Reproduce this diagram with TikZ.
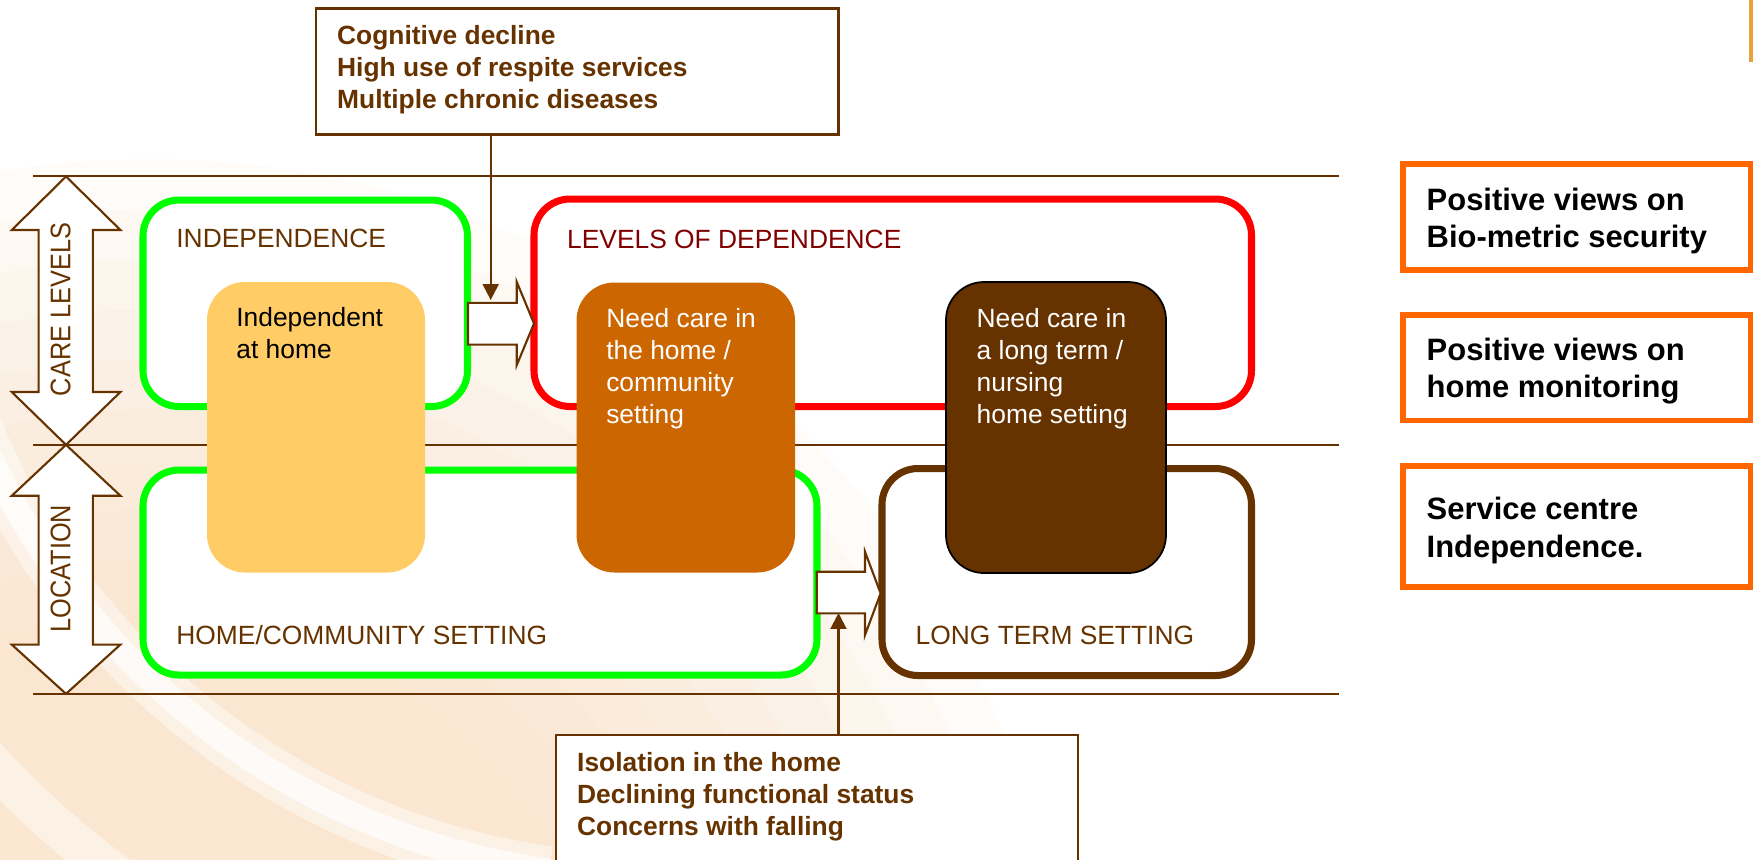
\documentclass[tikz,border=0pt]{standalone}
\usepackage{fontspec}
\setmainfont{Liberation Sans}
\usetikzlibrary{arrows.meta,fit}

\definecolor{cbrown}{HTML}{663300}
\definecolor{cgreen}{HTML}{00FF00}
\definecolor{cred}{HTML}{FF0000}
\definecolor{cdarkred}{HTML}{800000}
\definecolor{cyellow}{HTML}{FFCC66}
\definecolor{corange}{HTML}{CC6600}
\definecolor{cframe}{HTML}{FF6600}
\definecolor{cpeach}{RGB}{250,222,190}
\definecolor{cedge}{RGB}{235,160,60}

\begin{document}
\begin{tikzpicture}[x=0.01cm,y=-0.01cm,
  hline/.style={draw=cbrown, line width=0.55pt},
  conn/.style={draw=cbrown, line width=0.6pt, -{Triangle[length=4.5pt,width=4.5pt]}},
  blockarrow/.style={draw=cbrown, line width=0.6pt, fill=white, line join=miter},
  zone/.style={draw, line width=2pt, fill=white, rounded corners=0.36cm, inner sep=0pt},
  stage/.style={rounded corners=0.38cm, inner sep=0pt},
  notebox/.style={draw=cbrown, line width=0.6pt, fill=white, inner sep=0pt},
  viewbox/.style={draw=cframe, line width=1.6pt, fill=white, inner sep=0pt},
  wash/.style={fill=cpeach, fill opacity=#1},
  lbl/.style={anchor=base west, inner sep=0pt, font=\fontsize{7.5pt}{9pt}\selectfont},
  % multi-line texts are placed by the baseline of their last line
  stagetxt/.style={anchor=base west, inner sep=0pt, align=left, font=\fontsize{7.5pt}{9.1pt}\selectfont},
  notetxt/.style={anchor=base west, inner sep=0pt, align=left, text=cbrown, font=\fontsize{7.5pt}{9.1pt}\selectfont\bfseries},
  viewtxt/.style={anchor=base west, inner sep=0pt, align=left, font=\fontsize{8.8pt}{10.6pt}\selectfont\bfseries},
  axistxt/.style={rotate=90, inner sep=0pt, text=cbrown, font=\fontsize{7.2pt}{8pt}\selectfont},
]
\useasboundingbox (0,0) rectangle (1753,859);
\clip (0,0) rectangle (1753,859);

% backdrop: layered peach wash with pale sweeping bands
\fill[white] (0,0) rectangle (1753,859);
\foreach \r in {9.2cm,8.7cm,8.2cm,7.7cm,7.2cm,6.7cm,6.2cm,5.7cm,5.2cm,4.7cm}
  \fill[wash=0.1] (150,1080) circle (\r);
\draw[white, line width=0.5cm, opacity=0.45] (-34,399) arc[start angle=200, end angle=262, radius=7.28cm];
\draw[white, line width=0.25cm, opacity=0.7] (-34,399) arc[start angle=200, end angle=262, radius=7.28cm];
\draw[white, line width=0.4cm, opacity=0.45] (-87,666) arc[start angle=215, end angle=245, radius=9cm];
\draw[cedge, line width=1pt] (1751,0) -- (1751,62);

% band separators
\draw[hline] (33,175.8) -- (1339,175.8);
\draw[hline] (33,445) -- (1339,445);
\draw[hline] (33,694) -- (1339,694);

% axis double arrows
\draw[blockarrow] (66,176.5) -- (120.4,230) -- (92.9,230) -- (92.9,392) -- (120.4,392) -- (66,444.8)
  -- (11.8,392) -- (38.6,392) -- (38.6,230) -- (11.8,230) -- cycle;
\draw[blockarrow] (66,444.8) -- (120.4,495.7) -- (92.9,495.7) -- (92.9,644.6) -- (120.4,644.6) -- (66,693.8)
  -- (11.8,644.6) -- (38.6,644.6) -- (38.6,495.7) -- (11.8,495.7) -- cycle;
\node[axistxt] (carelbl) at (60.5,309.5) {\scalebox{1}[1.12]{CARE LEVELS}};
\node[axistxt] (loclbl) at (60.5,568.5) {\scalebox{1}[1.12]{LOCATION}};

% trigger notes
\node[notebox, fit={(316,8.5) (838.5,134.5)}] (causeA) {};
\node[notetxt] (causeAtxt) at (336.5,108.3) {Cognitive decline\\High use of respite services\\Multiple chronic diseases};
\node[notebox, fit={(555.8,735) (1077.7,875)}] (causeB) {};
\node[notetxt] (causeBtxt) at (576.5,835.7) {Isolation in the home\\Declining functional status\\Concerns with falling};

% zones
\node[zone, draw=cgreen, fit={(143,200) (467.5,406.5)}] (indep) {};
\node[zone, draw=cgreen, fit={(143,470) (817,675)}] (homeset) {};
\node[zone, draw=cred, fit={(534,199) (1251.5,406.5)}] (depend) {};
\node[zone, draw=cbrown, fit={(882,468.5) (1251.5,675.5)}] (longterm) {};

\node[lbl, text=cbrown] (indeplbl) at (175.7,247.5) {INDEPENDENCE};
\node[lbl, text=cdarkred] (dependlbl) at (566.5,248) {LEVELS OF DEPENDENCE};
\node[lbl, text=cbrown] (homelbl) at (175.7,644.6) {HOME/COMMUNITY SETTING};
\node[lbl, text=cbrown] (longlbl) at (915,644) {LONG TERM SETTING};

% care stages
\node[stage, fill=cyellow, fit={(207,282) (425,572.5)}] (athome) {};
\node[stage, fill=corange, fit={(576.5,282.5) (795,572.5)}] (community) {};
\node[stage, fill=cbrown, draw=black, line width=0.5pt, fit={(946,282) (1166,573)}] (nursing) {};

\node[stagetxt] (athometxt) at (235.7,358.5) {Independent\\at home};
\node[stagetxt, text=white] (communitytxt) at (605.6,423) {Need care in\\the home /\\community\\setting};
\node[stagetxt, text=white] (nursingtxt) at (976,423) {Need care in\\a long term /\\nursing\\home setting};

% transitions between zones
\draw[blockarrow] (468,302.9) -- (516.8,302.9) -- (516.8,282) -- (534,323.5) -- (516.8,365)
  -- (516.8,344.6) -- (468,344.6) -- cycle;
\draw[blockarrow] (816.7,571.7) -- (865,571.7) -- (865,551.7) -- (880.6,593.3) -- (865,635)
  -- (865,613.3) -- (816.7,613.3) -- cycle;

\coordinate (tipA) at (490.7,300);
\coordinate (tipB) at (838.5,613);
\draw[conn] (causeA.south -| tipA) -- (tipA);
\draw[conn] (causeB.north -| tipB) -- (tipB);

% findings
\node[viewbox, fit={(1403,164) (1750.5,269.7)}] (viewA) {};
\node[viewtxt] (viewAtxt) at (1426,247.7) {Positive views on\\Bio-metric security};
\node[viewbox, fit={(1403,315) (1750.5,420.5)}] (viewB) {};
\node[viewtxt] (viewBtxt) at (1426,397.7) {Positive views on\\home monitoring};
\node[viewbox, fit={(1403,466) (1750.5,587)}] (viewC) {};
\node[viewtxt] (viewCtxt) at (1426,557) {Service centre\\Independence.};
\end{tikzpicture}
\end{document}
